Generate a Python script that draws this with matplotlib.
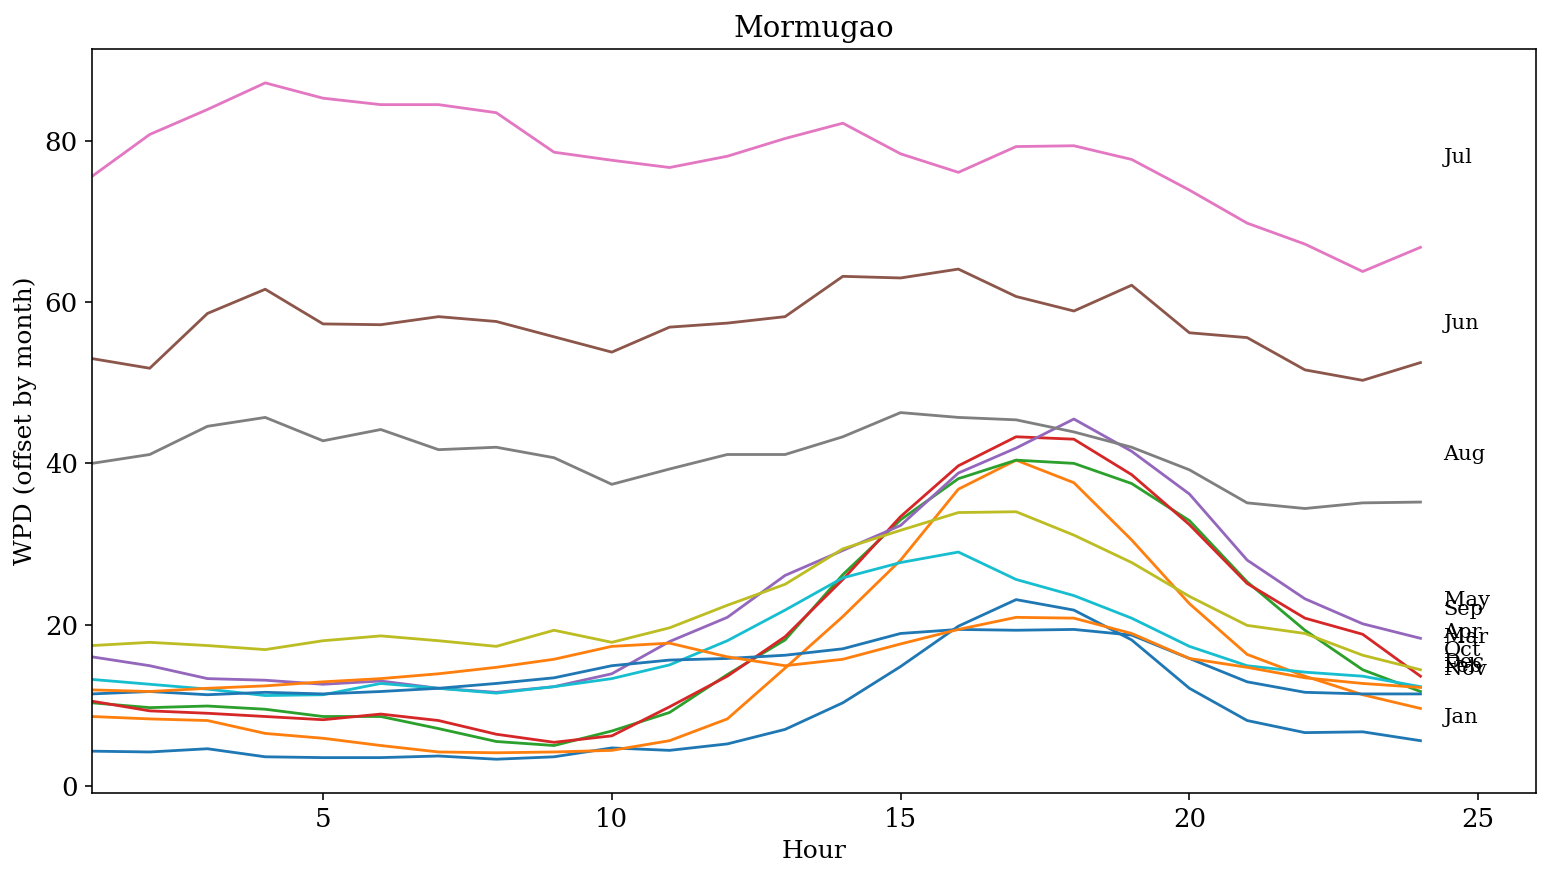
import numpy as np
import matplotlib
matplotlib.use('Agg')
import matplotlib.pyplot as plt

plt.rcParams['font.family'] = 'DejaVu Serif'

# WPD per hour, one list per month
hours = list(range(1, 25))
months = ['Jan', 'Feb', 'Mar', 'Apr', 'May', 'Jun',
          'Jul', 'Aug', 'Sep', 'Oct', 'Nov', 'Dec']

jan = [4.3, 4.2, 4.6, 3.6, 3.5, 3.5, 3.7, 3.3, 3.6, 4.7, 4.4, 5.2,
       7.0, 10.3, 14.8, 19.8, 23.1, 21.8, 18.1, 12.1, 8.1, 6.6, 6.7, 5.6]
feb = [8.6, 8.3, 8.1, 6.5, 5.9, 5.0, 4.2, 4.1, 4.2, 4.4, 5.6, 8.3,
       14.6, 21.0, 28.0, 36.8, 40.4, 37.6, 30.5, 22.6, 16.3, 13.6, 11.3, 9.6]
mar = [10.3, 9.7, 9.9, 9.5, 8.6, 8.6, 7.1, 5.5, 5.0, 6.8, 9.1, 13.8,
       18.1, 26.2, 33.0, 38.1, 40.4, 40.0, 37.5, 32.9, 25.3, 19.3, 14.4, 11.7]
apr = [10.5, 9.3, 9.0, 8.6, 8.2, 8.9, 8.1, 6.4, 5.4, 6.2, 9.8, 13.6,
       18.5, 25.6, 33.4, 39.7, 43.3, 43.0, 38.6, 32.4, 25.1, 20.8, 18.8, 13.6]
may = [16.0, 14.9, 13.3, 13.1, 12.6, 13.0, 12.1, 11.6, 12.3, 13.9, 17.9, 20.9,
       26.1, 29.2, 32.3, 38.8, 41.9, 45.5, 41.5, 36.2, 28.0, 23.2, 20.1, 18.3]
jun = [53.0, 51.8, 58.6, 61.6, 57.3, 57.2, 58.2, 57.6, 55.7, 53.8, 56.9, 57.4,
       58.2, 63.2, 63.0, 64.1, 60.7, 58.9, 62.1, 56.2, 55.6, 51.6, 50.3, 52.5]
jul = [75.6, 80.8, 83.9, 87.2, 85.3, 84.5, 84.5, 83.5, 78.6, 77.6, 76.7, 78.1,
       80.3, 82.2, 78.4, 76.1, 79.3, 79.4, 77.7, 73.9, 69.8, 67.2, 63.8, 66.8]
aug = [40.0, 41.1, 44.6, 45.7, 42.8, 44.2, 41.7, 42.0, 40.7, 37.4, 39.3, 41.1,
       41.1, 43.3, 46.3, 45.7, 45.4, 43.9, 42.0, 39.2, 35.1, 34.4, 35.1, 35.2]
sep = [17.4, 17.8, 17.4, 16.9, 18.0, 18.6, 18.0, 17.3, 19.3, 17.8, 19.6, 22.4,
       25.0, 29.4, 31.7, 33.9, 34.0, 31.1, 27.7, 23.5, 19.9, 18.9, 16.2, 14.4]
oct_ = [13.2, 12.6, 12.0, 11.2, 11.3, 12.7, 12.1, 11.5, 12.3, 13.3, 15.0, 18.0,
        21.8, 25.8, 27.7, 29.0, 25.6, 23.6, 20.8, 17.3, 14.9, 14.1, 13.6, 12.3]
nov = [11.4, 11.7, 11.3, 11.6, 11.4, 11.7, 12.1, 12.7, 13.4, 14.9, 15.6, 15.8,
       16.2, 17.0, 18.9, 19.4, 19.3, 19.4, 18.7, 15.8, 12.9, 11.6, 11.4, 11.4]
dec = [11.9, 11.7, 12.1, 12.4, 12.9, 13.3, 13.9, 14.7, 15.7, 17.3, 17.7, 16.0,
       14.9, 15.7, 17.6, 19.4, 20.9, 20.8, 18.9, 15.8, 14.7, 13.4, 12.7, 12.2]

series = [jan, feb, mar, apr, may, jun, jul, aug, sep, oct_, nov, dec]

DPI = 144
fig = plt.figure(figsize=(1551 / DPI, 876 / DPI), dpi=DPI)
ax = fig.add_subplot(111)
fig.subplots_adjust(left=0.0593, right=0.9903, top=0.944, bottom=0.0947)

for name, vals in zip(months, series):
    ax.plot(hours, vals, lw=1.4)
    # month name next to the line, at the series mean
    ax.text(24.4, np.mean(vals), name, fontsize=10.5, va='center')

ax.set_xlim(1, 26)
ax.set_title('Mormugao', fontsize=14.5)
ax.set_xlabel('Hour', fontsize=12.5)
ax.set_ylabel('WPD (offset by month)', fontsize=12.5)
ax.tick_params(labelsize=13)

fig.savefig('out.png', dpi=DPI)
